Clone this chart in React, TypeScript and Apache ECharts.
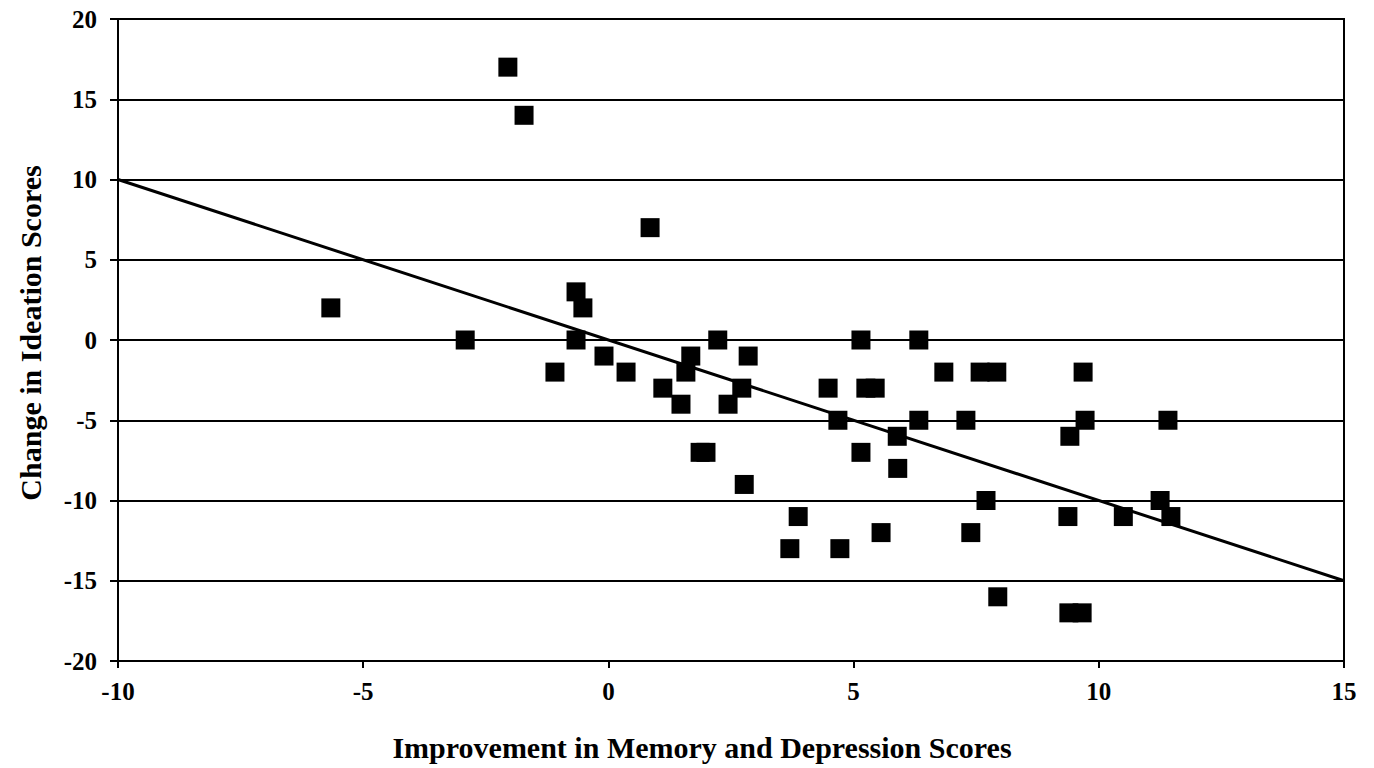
import React, { useEffect, useRef } from "react";
import * as echarts from "echarts";

const improvement = [
  -5.66, -2.92, -2.05, -1.72, -1.09, -0.66, -0.52, -0.66, -0.09, 0.36, 0.85, 1.11, 1.48, 1.58, 1.68,
  1.87, 1.99, 2.23, 2.44, 2.72, 2.77, 2.85, 3.7, 3.87, 4.48, 4.68, 4.72, 5.15, 5.15, 5.25, 5.44, 5.56,
  5.89, 5.9, 6.33, 6.33, 6.84, 7.29, 7.39, 7.58, 7.7, 7.92, 7.94, 9.39, 9.66, 9.41, 9.37, 9.68, 9.72,
  10.5, 11.25, 11.41, 11.47,
];
const ideationChange = [
  2, 0, 17, 14, -2, 3, 2, 0, -1, -2, 7, -3, -4, -2, -1, -7, -7, 0, -4, -3, -9, -1, -13, -11, -3, -5,
  -13, 0, -7, -3, -3, -12, -6, -8, 0, -5, -2, -5, -12, -2, -10, -2, -16, -17, -17, -6, -11, -2, -5,
  -11, -10, -5, -11,
];
const trendX = [-10, 15];
const trendY = [10, -15];

const xTitle = "Improvement in Memory and Depression Scores";
const yTitle = "Change in Ideation Scores";

export default function App() {
  const ref = useRef<HTMLDivElement>(null);
  useEffect(() => {
    if (!ref.current) return;
    const chart = echarts.init(ref.current, null, { renderer: "svg" });
    const font = "'Liberation Serif', 'Times New Roman', serif";
    chart.setOption({
      animation: false,
      backgroundColor: "#ffffff",
      grid: {
        left: 118,
        right: 30,
        top: 19,
        bottom: 107,
        show: true,
        borderColor: "#000",
        borderWidth: 2,
        containLabel: false,
      },
      graphic: [
        {
          type: "text",
          x: 702,
          y: 747,
          style: {
            text: xTitle,
            fontFamily: font,
            fontWeight: "bold",
            fontSize: 30,
            fill: "#000",
            textAlign: "center",
            textVerticalAlign: "middle",
          },
        },
        {
          type: "text",
          x: 30,
          y: 333,
          rotation: Math.PI / 2,
          style: {
            text: yTitle,
            fontFamily: font,
            fontWeight: "bold",
            fontSize: 30,
            fill: "#000",
            textAlign: "center",
            textVerticalAlign: "middle",
          },
        },
      ],
      xAxis: {
        type: "value",
        min: -10,
        max: 15,
        interval: 5,
        axisLine: { show: true, onZero: false, lineStyle: { color: "#000", width: 2 } },
        axisTick: { show: true, inside: false, length: 7, lineStyle: { color: "#000", width: 2 } },
        axisLabel: { fontFamily: font, fontWeight: "bold", fontSize: 25, color: "#000", margin: 18 },
        splitLine: { show: false },
      },
      yAxis: {
        type: "value",
        min: -20,
        max: 20,
        interval: 5,
        axisLine: { show: true, onZero: false, lineStyle: { color: "#000", width: 2 } },
        axisTick: { show: true, inside: false, length: 8, lineStyle: { color: "#000", width: 2 } },
        axisLabel: { fontFamily: font, fontWeight: "bold", fontSize: 25, color: "#000", margin: 21 },
        splitLine: { show: true, lineStyle: { color: "#000", width: 2, type: "solid" } },
      },
      series: [
        {
          type: "scatter",
          symbol: "rect",
          symbolSize: 19,
          itemStyle: { color: "#000", opacity: 1 },
          data: improvement.map((x, i) => [x, ideationChange[i]]),
          z: 3,
        },
        {
          type: "line",
          data: trendX.map((x, i) => [x, trendY[i]]),
          symbol: "none",
          lineStyle: { color: "#000", width: 3 },
          z: 4,
        },
      ],
    });
    return () => chart.dispose();
  }, []);
  return <div ref={ref} style={{ width: 1374, height: 768, position: "absolute", left: 0, top: 0 }} />;
}
